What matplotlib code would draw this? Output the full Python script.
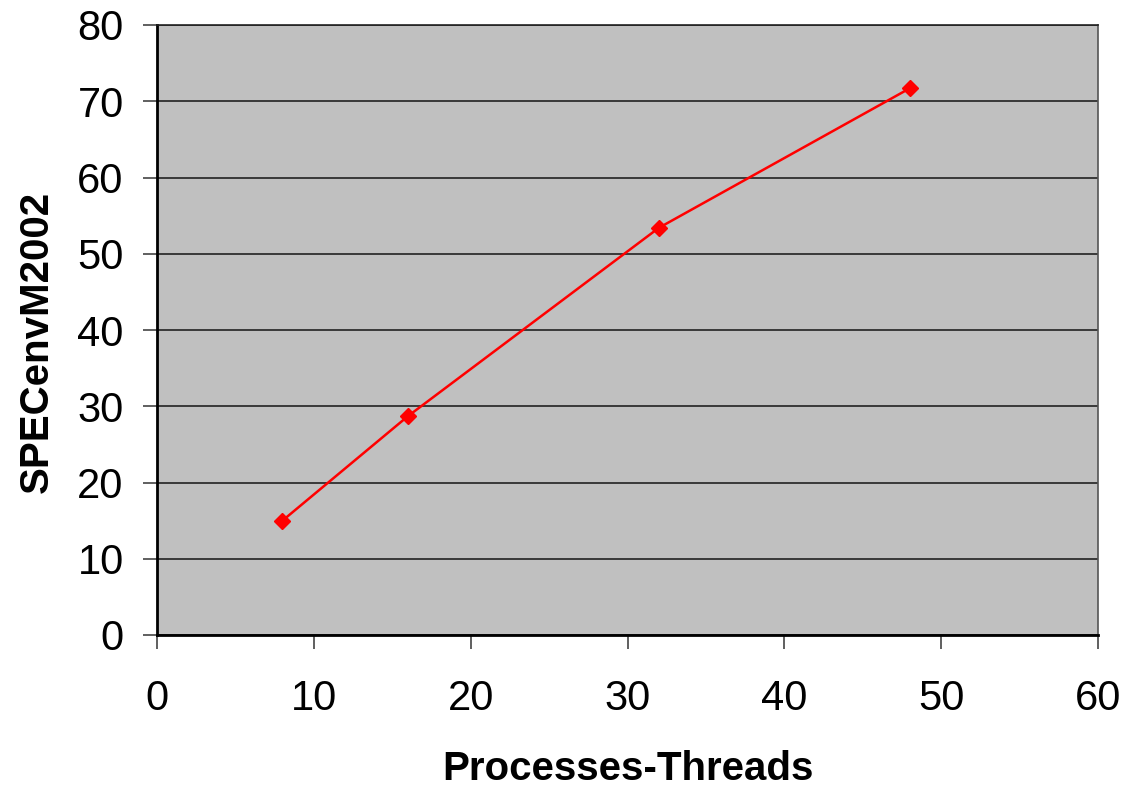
import matplotlib
matplotlib.use("Agg")
import matplotlib.pyplot as plt

# values
threads = [8, 16, 32, 48]
spec_scores = [15.0, 28.7, 53.4, 71.7]
x_ticks = [0, 10, 20, 30, 40, 50, 60]
y_ticks = [0, 10, 20, 30, 40, 50, 60, 70, 80]

plt.rcParams['font.family'] = ['Liberation Sans', 'DejaVu Sans']

fig = plt.figure(figsize=(11.27, 7.86), dpi=100)
ax = fig.add_axes([157 / 1127, 1 - 635 / 786, (1098 - 157) / 1127, (635 - 25) / 786])
ax.set_facecolor('#c0c0c0')

ax.plot(threads, spec_scores, color='#ff0000', linewidth=1.8,
        marker='D', markersize=8, markerfacecolor='#ff0000',
        markeredgecolor='#ff0000', zorder=3)

ax.set_xlim(0, 60)
ax.set_ylim(0, 80)
ax.set_xticks(x_ticks)
ax.set_yticks(y_ticks)
ax.tick_params(axis='both', direction='out', length=10, width=1.2,
               labelsize=30, color='#444444')
ax.tick_params(axis='x', pad=22)
ax.tick_params(axis='y', pad=14)

ax.grid(True, axis='y', color='#222222', linewidth=1.2)
ax.set_axisbelow(True)

ax.spines['left'].set_color('black')
ax.spines['left'].set_linewidth(2)
ax.spines['bottom'].set_color('black')
ax.spines['bottom'].set_linewidth(2)
ax.spines['top'].set_color('#222222')
ax.spines['top'].set_linewidth(1.2)
ax.spines['right'].set_color('#555555')
ax.spines['right'].set_linewidth(1.2)

ax.set_xlabel('Processes-Threads', fontsize=29, fontweight='bold', labelpad=22)
ax.set_ylabel('SPECenvM2002', fontsize=29, fontweight='bold')
ax.yaxis.set_label_coords(-0.108, 0.48)

fig.savefig('out.png', dpi=100)
